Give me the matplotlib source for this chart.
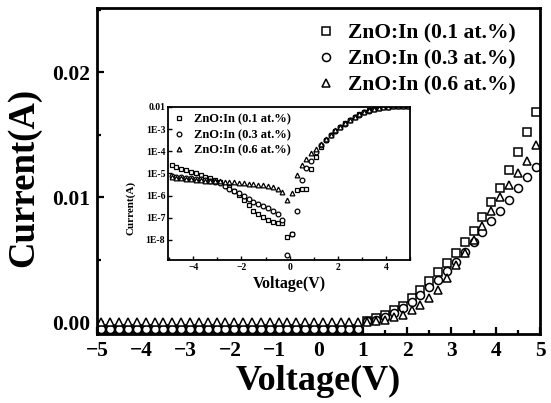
import numpy as np
import matplotlib
matplotlib.use("Agg")
import matplotlib.pyplot as plt
from matplotlib.ticker import MultipleLocator, FixedLocator, NullLocator

plt.rcParams['font.family'] = ['Liberation Serif', 'DejaVu Serif']
plt.rcParams['font.weight'] = 'bold'

labels = ["ZnO:In (0.1 at.%)", "ZnO:In (0.3 at.%)", "ZnO:In (0.6 at.%)"]

# voltage sweep, 0.2 V steps
volt = np.round(np.arange(-4.9, 5.0, 0.2), 1)

# main plot, linear current (A)
cur_01 = [-0.00055] * 30 + [
    0.0001, 0.0003, 0.0006, 0.0010, 0.0013, 0.0019, 0.0026, 0.0033, 0.0040, 0.0047,
    0.0055, 0.0064, 0.0073, 0.0084, 0.0096, 0.0107, 0.0122, 0.0136, 0.0152, 0.0168]
cur_03 = [-0.00055] * 30 + [
    0.00005, 0.0002, 0.0004, 0.0007, 0.0011, 0.0016, 0.0022, 0.0028, 0.0034, 0.0041,
    0.0048, 0.0056, 0.0064, 0.0072, 0.0081, 0.0089, 0.0098, 0.0107, 0.0116, 0.0124]
cur_06 = [0.0] * 30 + [
    0.00003, 0.0001, 0.0002, 0.0004, 0.0006, 0.0010, 0.0014, 0.0019, 0.0026, 0.0035,
    0.0046, 0.0055, 0.0066, 0.0077, 0.0089, 0.0100, 0.0110, 0.0119, 0.0129, 0.0142]

# inset, log10 of current
log_01 = [-4.62, -4.70, -4.78, -4.86, -4.93, -5.00, -5.07, -5.15, -5.22, -5.30,
          -5.40, -5.50, -5.62, -5.78, -5.98, -6.20, -6.41, -6.70, -6.85, -6.95,
          -7.08, -7.20, -7.23, -7.23, -7.85, -7.75, -5.74, -5.72, -5.70, -4.80,
          -4.25, -3.80, -3.50, -3.28, -3.08, -2.90, -2.74, -2.60, -2.46, -2.34,
          -2.24, -2.16, -2.09, -2.04, -2.00, -1.99, -1.98, -1.98, -1.97, -1.97]
log_03 = [-5.12, -5.15, -5.18, -5.20, -5.22, -5.24, -5.27, -5.30, -5.34, -5.38,
          -5.45, -5.55, -5.68, -5.78, -5.90, -6.02, -6.15, -6.28, -6.38, -6.47,
          -6.56, -6.68, -6.85, -7.10, -8.67, -7.75, -6.70, -5.30, -4.75, -4.42,
          -4.02, -3.72, -3.49, -3.28, -3.08, -2.91, -2.75, -2.61, -2.47, -2.35,
          -2.25, -2.17, -2.10, -2.05, -2.01, -1.99, -1.98, -1.98, -1.97, -1.97]
log_06 = [-5.18, -5.20, -5.22, -5.24, -5.26, -5.28, -5.30, -5.32, -5.33, -5.35,
          -5.36, -5.37, -5.38, -5.40, -5.42, -5.44, -5.46, -5.48, -5.50, -5.53,
          -5.57, -5.62, -5.70, -5.85, -6.20, -5.90, -5.06, -4.60, -4.35, -4.10,
          -3.90, -3.67, -3.45, -3.25, -3.06, -2.89, -2.73, -2.59, -2.46, -2.34,
          -2.24, -2.16, -2.09, -2.04, -2.00, -1.99, -1.98, -1.98, -1.97, -1.97]

inset_yticks = [1e-8, 1e-7, 1e-6, 1e-5, 1e-4, 1e-3, 1e-2]
inset_ylabels = ["1E-8", "1E-7", "1E-6", "1E-5", "1E-4", "1E-3", "0.01"]

fig = plt.figure(figsize=(5.51, 4.03), dpi=100)
ax = fig.add_axes([0.176, 0.171, 0.804, 0.809])

mk = dict(ls='none', mfc='white', mec='black')
ax.plot(volt, cur_01, marker='s', ms=5.6, mew=1.1, label=labels[0], **mk)
ax.plot(volt, cur_03, marker='o', ms=5.8, mew=1.1, label=labels[1], **mk)
ax.plot(volt, cur_06, marker='^', ms=6.0, mew=1.1, label=labels[2], **mk)

ax.set_xlim(-5.0, 5.0)
ax.set_ylim(-0.00096, 0.02512)
ax.xaxis.set_major_locator(MultipleLocator(1))
ax.xaxis.set_minor_locator(MultipleLocator(0.5))
ax.set_yticks([0.0, 0.01, 0.02])
ax.set_yticklabels(["0.00", "0.01", "0.02"])
ax.yaxis.set_minor_locator(MultipleLocator(0.005))
ax.tick_params(which='both', direction='in', width=1.6, labelsize=15.5, pad=5)
ax.tick_params(which='major', length=5)
ax.tick_params(which='minor', length=3)
for s in ax.spines.values():
    s.set_linewidth(2.0)
ax.set_xlabel("Voltage(V)", fontsize=26, fontweight='bold', labelpad=3)
ax.set_ylabel("Current(A)", fontsize=26.5, fontweight='bold')
ax.yaxis.set_label_coords(-0.125, 0.48)

leg = ax.legend(loc='upper left', bbox_to_anchor=(315 / 551, 1 - 23 / 403),
                bbox_transform=fig.transFigure, frameon=False, borderpad=0,
                borderaxespad=0, handlelength=1.0, handletextpad=0.55,
                labelspacing=0.28, prop={'size': 15.5, 'weight': 'bold'})

# inset with log scale
ins = fig.add_axes([0.305, 0.355, 0.439, 0.3797])
imk = dict(ls='none', mfc='white', mec='black', ms=3.4, mew=0.9)
ins.plot(volt, 10.0 ** np.array(log_01), marker='s', label=labels[0], **imk)
ins.plot(volt, 10.0 ** np.array(log_03), marker='o', label=labels[1], **imk)
ins.plot(volt, 10.0 ** np.array(log_06), marker='^', label=labels[2], **imk)
ins.set_yscale('log')
ins.set_xlim(-5.05, 5.0)
ins.set_ylim(10 ** -8.9, 1e-2)
ins.yaxis.set_major_locator(FixedLocator(inset_yticks))
ins.yaxis.set_minor_locator(NullLocator())
ins.set_yticklabels(inset_ylabels)
ins.set_xticks([-4, -2, 0, 2, 4])
ins.xaxis.set_minor_locator(MultipleLocator(1))
ins.tick_params(which='both', direction='in', width=1.0, labelsize=7, pad=2)
ins.tick_params(which='major', length=3)
ins.tick_params(which='minor', length=2)
for s in ins.spines.values():
    s.set_linewidth(1.3)
ins.set_xlabel("Voltage(V)", fontsize=11.5, fontweight='bold', labelpad=3)
ins.set_ylabel("Current(A)", fontsize=8, fontweight='bold')
ins.yaxis.set_label_coords(-0.135, 0.34)
ins.legend(loc='upper left', frameon=False, borderpad=0.2, borderaxespad=0.3,
           handlelength=0.8, handletextpad=0.8, labelspacing=0.3,
           prop={'size': 9, 'weight': 'bold'})

fig.savefig("out.png", dpi=100)
